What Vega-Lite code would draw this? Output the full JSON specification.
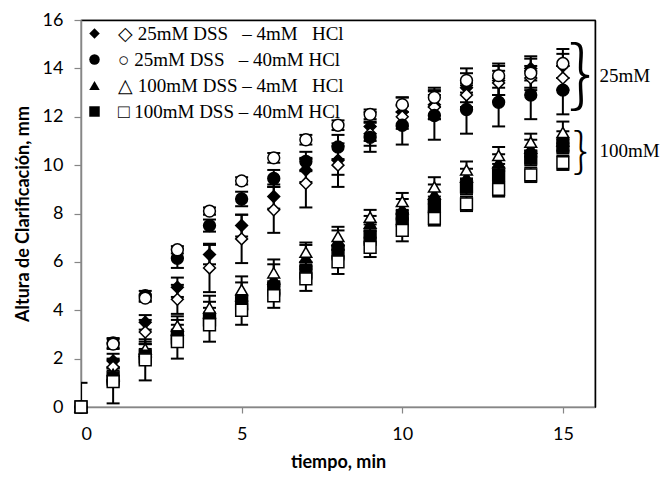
{
  "$schema": "https://vega.github.io/schema/vega-lite/v6.json",
  "autosize": {"type": "none"},
  "width": 514,
  "height": 387,
  "padding": {"left": 81, "top": 20, "right": 70, "bottom": 71},
  "background": "white",
  "config": {
    "view": {"stroke": "#000000", "strokeWidth": 1.2},
    "axis": {
      "grid": false,
      "domainColor": "#868686",
      "domainWidth": 1.5,
      "tickColor": "#868686",
      "tickWidth": 1.2,
      "labelFont": "Lato",
      "labelFontSize": 18,
      "labelColor": "#000000",
      "titleFont": "Lato",
      "titleFontSize": 18,
      "titleFontWeight": "bold",
      "titleColor": "#000000"
    }
  },
  "resolve": {"axis": {"x": "independent", "y": "independent"}},
  "datasets": {
    "d": [
      {"s":"25-4","r":"lleno","t":0,"y":0,"lo":0,"hi":0},
      {"s":"25-4","r":"lleno","t":1,"y":1.9,"lo":1.6,"hi":2.2},
      {"s":"25-4","r":"lleno","t":2,"y":3.5,"lo":3.2,"hi":3.8},
      {"s":"25-4","r":"lleno","t":3,"y":4.95,"lo":4.55,"hi":5.35},
      {"s":"25-4","r":"lleno","t":4,"y":6.3,"lo":5.9,"hi":6.7},
      {"s":"25-4","r":"lleno","t":5,"y":7.5,"lo":7.05,"hi":7.95},
      {"s":"25-4","r":"lleno","t":6,"y":8.7,"lo":8.2,"hi":9.2},
      {"s":"25-4","r":"lleno","t":7,"y":9.8,"lo":9.3,"hi":10.3},
      {"s":"25-4","r":"lleno","t":8,"y":10.2,"lo":9.6,"hi":10.8},
      {"s":"25-4","r":"lleno","t":9,"y":11.6,"lo":11.0,"hi":12.2},
      {"s":"25-4","r":"lleno","t":10,"y":12.2,"lo":11.6,"hi":12.8},
      {"s":"25-4","r":"lleno","t":11,"y":12.5,"lo":11.9,"hi":13.1},
      {"s":"25-4","r":"lleno","t":12,"y":13.2,"lo":12.6,"hi":13.8},
      {"s":"25-4","r":"lleno","t":13,"y":13.5,"lo":12.9,"hi":14.1},
      {"s":"25-4","r":"lleno","t":14,"y":14.0,"lo":13.5,"hi":14.5},
      {"s":"25-4","r":"lleno","t":15,"y":14.1,"lo":13.6,"hi":14.6},
      {"s":"25-4","r":"vacio","t":0,"y":0,"lo":0,"hi":0},
      {"s":"25-4","r":"vacio","t":1,"y":1.65,"lo":1.3,"hi":2.0},
      {"s":"25-4","r":"vacio","t":2,"y":3.1,"lo":2.6,"hi":3.6},
      {"s":"25-4","r":"vacio","t":3,"y":4.45,"lo":3.85,"hi":5.05},
      {"s":"25-4","r":"vacio","t":4,"y":5.75,"lo":4.75,"hi":6.75},
      {"s":"25-4","r":"vacio","t":5,"y":6.95,"lo":5.95,"hi":7.95},
      {"s":"25-4","r":"vacio","t":6,"y":8.15,"lo":7.2,"hi":9.1},
      {"s":"25-4","r":"vacio","t":7,"y":9.25,"lo":8.25,"hi":10.25},
      {"s":"25-4","r":"vacio","t":8,"y":10.0,"lo":9.1,"hi":10.9},
      {"s":"25-4","r":"vacio","t":9,"y":11.3,"lo":10.8,"hi":11.8},
      {"s":"25-4","r":"vacio","t":10,"y":12.0,"lo":11.5,"hi":12.5},
      {"s":"25-4","r":"vacio","t":11,"y":12.4,"lo":11.9,"hi":12.9},
      {"s":"25-4","r":"vacio","t":12,"y":12.9,"lo":12.4,"hi":13.4},
      {"s":"25-4","r":"vacio","t":13,"y":13.4,"lo":12.9,"hi":13.9},
      {"s":"25-4","r":"vacio","t":14,"y":13.6,"lo":13.1,"hi":14.1},
      {"s":"25-4","r":"vacio","t":15,"y":13.6,"lo":13.1,"hi":14.1},
      {"s":"25-40","r":"lleno","t":0,"y":0,"lo":-1,"hi":1},
      {"s":"25-40","r":"lleno","t":1,"y":2.65,"lo":2.45,"hi":2.85},
      {"s":"25-40","r":"lleno","t":2,"y":4.6,"lo":4.4,"hi":4.8},
      {"s":"25-40","r":"lleno","t":3,"y":6.15,"lo":5.75,"hi":6.55},
      {"s":"25-40","r":"lleno","t":4,"y":7.5,"lo":7.25,"hi":7.75},
      {"s":"25-40","r":"lleno","t":5,"y":8.6,"lo":8.3,"hi":8.9},
      {"s":"25-40","r":"lleno","t":6,"y":9.45,"lo":9.1,"hi":9.8},
      {"s":"25-40","r":"lleno","t":7,"y":10.15,"lo":9.75,"hi":10.55},
      {"s":"25-40","r":"lleno","t":8,"y":10.75,"lo":10.25,"hi":11.25},
      {"s":"25-40","r":"lleno","t":9,"y":11.15,"lo":10.55,"hi":11.75},
      {"s":"25-40","r":"lleno","t":10,"y":11.65,"lo":10.85,"hi":12.45},
      {"s":"25-40","r":"lleno","t":11,"y":12.05,"lo":11.05,"hi":13.05},
      {"s":"25-40","r":"lleno","t":12,"y":12.3,"lo":11.3,"hi":13.3},
      {"s":"25-40","r":"lleno","t":13,"y":12.6,"lo":11.6,"hi":13.6},
      {"s":"25-40","r":"lleno","t":14,"y":12.9,"lo":11.9,"hi":13.9},
      {"s":"25-40","r":"lleno","t":15,"y":13.1,"lo":12.1,"hi":14.1},
      {"s":"25-40","r":"vacio","t":0,"y":0,"lo":0,"hi":0},
      {"s":"25-40","r":"vacio","t":1,"y":2.6,"lo":2.4,"hi":2.8},
      {"s":"25-40","r":"vacio","t":2,"y":4.5,"lo":4.35,"hi":4.65},
      {"s":"25-40","r":"vacio","t":3,"y":6.5,"lo":6.35,"hi":6.65},
      {"s":"25-40","r":"vacio","t":4,"y":8.1,"lo":7.95,"hi":8.25},
      {"s":"25-40","r":"vacio","t":5,"y":9.35,"lo":9.2,"hi":9.5},
      {"s":"25-40","r":"vacio","t":6,"y":10.3,"lo":10.1,"hi":10.5},
      {"s":"25-40","r":"vacio","t":7,"y":11.05,"lo":10.85,"hi":11.25},
      {"s":"25-40","r":"vacio","t":8,"y":11.65,"lo":11.45,"hi":11.85},
      {"s":"25-40","r":"vacio","t":9,"y":12.1,"lo":11.9,"hi":12.3},
      {"s":"25-40","r":"vacio","t":10,"y":12.5,"lo":12.2,"hi":12.8},
      {"s":"25-40","r":"vacio","t":11,"y":12.8,"lo":12.4,"hi":13.2},
      {"s":"25-40","r":"vacio","t":12,"y":13.5,"lo":13.0,"hi":14.0},
      {"s":"25-40","r":"vacio","t":13,"y":13.7,"lo":13.2,"hi":14.2},
      {"s":"25-40","r":"vacio","t":14,"y":13.8,"lo":13.2,"hi":14.4},
      {"s":"25-40","r":"vacio","t":15,"y":14.2,"lo":13.6,"hi":14.8},
      {"s":"100-4","r":"lleno","t":0,"y":0,"lo":0,"hi":0},
      {"s":"100-4","r":"lleno","t":1,"y":1.35,"lo":1.05,"hi":1.65},
      {"s":"100-4","r":"lleno","t":2,"y":2.3,"lo":2.0,"hi":2.6},
      {"s":"100-4","r":"lleno","t":3,"y":3.2,"lo":2.8,"hi":3.6},
      {"s":"100-4","r":"lleno","t":4,"y":3.9,"lo":3.45,"hi":4.35},
      {"s":"100-4","r":"lleno","t":5,"y":4.6,"lo":4.05,"hi":5.15},
      {"s":"100-4","r":"lleno","t":6,"y":5.3,"lo":4.7,"hi":5.9},
      {"s":"100-4","r":"lleno","t":7,"y":6.2,"lo":5.7,"hi":6.7},
      {"s":"100-4","r":"lleno","t":8,"y":6.9,"lo":6.5,"hi":7.3},
      {"s":"100-4","r":"lleno","t":9,"y":7.6,"lo":7.3,"hi":7.9},
      {"s":"100-4","r":"lleno","t":10,"y":8.2,"lo":7.8,"hi":8.6},
      {"s":"100-4","r":"lleno","t":11,"y":8.8,"lo":8.4,"hi":9.2},
      {"s":"100-4","r":"lleno","t":12,"y":9.5,"lo":9.15,"hi":9.85},
      {"s":"100-4","r":"lleno","t":13,"y":10.1,"lo":9.75,"hi":10.45},
      {"s":"100-4","r":"lleno","t":14,"y":10.7,"lo":10.35,"hi":11.05},
      {"s":"100-4","r":"lleno","t":15,"y":11.0,"lo":10.6,"hi":11.4},
      {"s":"100-4","r":"vacio","t":0,"y":0,"lo":0,"hi":0},
      {"s":"100-4","r":"vacio","t":1,"y":1.3,"lo":1.0,"hi":1.6},
      {"s":"100-4","r":"vacio","t":2,"y":2.4,"lo":2.1,"hi":2.7},
      {"s":"100-4","r":"vacio","t":3,"y":3.35,"lo":2.95,"hi":3.75},
      {"s":"100-4","r":"vacio","t":4,"y":4.1,"lo":3.6,"hi":4.6},
      {"s":"100-4","r":"vacio","t":5,"y":4.85,"lo":4.3,"hi":5.4},
      {"s":"100-4","r":"vacio","t":6,"y":5.55,"lo":5.0,"hi":6.1},
      {"s":"100-4","r":"vacio","t":7,"y":6.4,"lo":6.0,"hi":6.8},
      {"s":"100-4","r":"vacio","t":8,"y":7.05,"lo":6.65,"hi":7.45},
      {"s":"100-4","r":"vacio","t":9,"y":7.85,"lo":7.55,"hi":8.15},
      {"s":"100-4","r":"vacio","t":10,"y":8.5,"lo":8.15,"hi":8.85},
      {"s":"100-4","r":"vacio","t":11,"y":9.1,"lo":8.7,"hi":9.5},
      {"s":"100-4","r":"vacio","t":12,"y":9.8,"lo":9.45,"hi":10.15},
      {"s":"100-4","r":"vacio","t":13,"y":10.4,"lo":10.05,"hi":10.75},
      {"s":"100-4","r":"vacio","t":14,"y":10.95,"lo":10.6,"hi":11.3},
      {"s":"100-4","r":"vacio","t":15,"y":11.35,"lo":10.9,"hi":11.8},
      {"s":"100-40","r":"lleno","t":0,"y":0,"lo":0,"hi":0},
      {"s":"100-40","r":"lleno","t":1,"y":1.2,"lo":0.9,"hi":1.5},
      {"s":"100-40","r":"lleno","t":2,"y":2.1,"lo":1.8,"hi":2.4},
      {"s":"100-40","r":"lleno","t":3,"y":2.9,"lo":2.6,"hi":3.2},
      {"s":"100-40","r":"lleno","t":4,"y":3.6,"lo":3.3,"hi":3.9},
      {"s":"100-40","r":"lleno","t":5,"y":4.3,"lo":4.0,"hi":4.6},
      {"s":"100-40","r":"lleno","t":6,"y":4.9,"lo":4.6,"hi":5.2},
      {"s":"100-40","r":"lleno","t":7,"y":5.6,"lo":5.3,"hi":5.9},
      {"s":"100-40","r":"lleno","t":8,"y":6.4,"lo":6.1,"hi":6.7},
      {"s":"100-40","r":"lleno","t":9,"y":7.0,"lo":6.7,"hi":7.3},
      {"s":"100-40","r":"lleno","t":10,"y":7.8,"lo":7.5,"hi":8.1},
      {"s":"100-40","r":"lleno","t":11,"y":8.3,"lo":8.0,"hi":8.6},
      {"s":"100-40","r":"lleno","t":12,"y":9.1,"lo":8.8,"hi":9.4},
      {"s":"100-40","r":"lleno","t":13,"y":9.6,"lo":9.3,"hi":9.9},
      {"s":"100-40","r":"lleno","t":14,"y":10.3,"lo":10.0,"hi":10.6},
      {"s":"100-40","r":"lleno","t":15,"y":10.8,"lo":10.5,"hi":11.1},
      {"s":"100-40","r":"vacio","t":0,"y":0,"lo":0,"hi":0},
      {"s":"100-40","r":"vacio","t":1,"y":1.05,"lo":0.15,"hi":1.95},
      {"s":"100-40","r":"vacio","t":2,"y":1.95,"lo":1.1,"hi":2.8},
      {"s":"100-40","r":"vacio","t":3,"y":2.7,"lo":2.0,"hi":3.4},
      {"s":"100-40","r":"vacio","t":4,"y":3.4,"lo":2.7,"hi":4.1},
      {"s":"100-40","r":"vacio","t":5,"y":4.0,"lo":3.4,"hi":4.6},
      {"s":"100-40","r":"vacio","t":6,"y":4.6,"lo":4.1,"hi":5.1},
      {"s":"100-40","r":"vacio","t":7,"y":5.3,"lo":4.8,"hi":5.8},
      {"s":"100-40","r":"vacio","t":8,"y":6.0,"lo":5.5,"hi":6.5},
      {"s":"100-40","r":"vacio","t":9,"y":6.6,"lo":6.2,"hi":7.0},
      {"s":"100-40","r":"vacio","t":10,"y":7.3,"lo":6.85,"hi":7.75},
      {"s":"100-40","r":"vacio","t":11,"y":7.8,"lo":7.5,"hi":8.1},
      {"s":"100-40","r":"vacio","t":12,"y":8.4,"lo":8.1,"hi":8.7},
      {"s":"100-40","r":"vacio","t":13,"y":9.0,"lo":8.7,"hi":9.3},
      {"s":"100-40","r":"vacio","t":14,"y":9.6,"lo":9.3,"hi":9.9},
      {"s":"100-40","r":"vacio","t":15,"y":10.1,"lo":9.8,"hi":10.4}
    ],
    "ann": [
      {"t": 15.55, "y": 13.62, "lbl": "25mM", "k": "big"},
      {"t": 15.55, "y": 10.5, "lbl": "100mM", "k": "small"}
    ]
  },
  "layer": [
    {
      "data": {"name": "ann"},
      "mark": {"type": "point", "opacity": 0, "size": 1},
      "encoding": {
        "x": {"field": "t", "type": "quantitative", "scale": {"domain": [0, 16], "nice": false},
              "axis": {"orient": "top", "labels": false, "ticks": false, "title": null, "domainColor": "#000000", "domainWidth": 1.5}},
        "y": {"field": "y", "type": "quantitative", "scale": {"domain": [0, 16], "nice": false},
              "axis": {"orient": "right", "labels": false, "ticks": false, "title": null, "domainColor": "#000000", "domainWidth": 1.5}}
      }
    },
    {
      "data": {"name": "d"},
      "transform": [{"filter": "datum.hi > datum.lo"}],
      "mark": {"type": "rule", "clip": true, "strokeWidth": 2, "color": "#000000"},
      "encoding": {
        "x": {"field": "t", "type": "quantitative",
              "axis": {"values": [0, 5, 10, 15], "tickSize": 6, "labelPadding": 12, "title": "tiempo, min", "titlePadding": 10}},
        "y": {"field": "lo", "type": "quantitative",
              "axis": {"values": [0, 2, 4, 6, 8, 10, 12, 14, 16], "tickSize": 7, "labelPadding": 11, "title": "Altura de Clarificación, mm", "titlePadding": 10}},
        "y2": {"field": "hi"}
      }
    },
    {
      "data": {"name": "d"},
      "transform": [{"filter": "datum.hi > datum.lo"}],
      "mark": {"type": "tick", "orient": "horizontal", "clip": true, "size": 13, "thickness": 2, "color": "#000000", "opacity": 1},
      "encoding": {
        "x": {"field": "t", "type": "quantitative", "axis": null},
        "y": {"field": "lo", "type": "quantitative", "axis": null}
      }
    },
    {
      "data": {"name": "d"},
      "transform": [{"filter": "datum.hi > datum.lo"}],
      "mark": {"type": "tick", "orient": "horizontal", "clip": true, "size": 13, "thickness": 2, "color": "#000000", "opacity": 1},
      "encoding": {
        "x": {"field": "t", "type": "quantitative", "axis": null},
        "y": {"field": "hi", "type": "quantitative", "axis": null}
      }
    },
    {
      "data": {"name": "d"},
      "mark": {"type": "point", "filled": true, "size": 140, "stroke": "#000000", "strokeWidth": 1.5, "opacity": 1},
      "encoding": {
        "x": {"field": "t", "type": "quantitative", "axis": null},
        "y": {"field": "y", "type": "quantitative", "axis": null},
        "shape": {
          "field": "s", "type": "nominal",
          "scale": {"domain": ["25-4", "25-40", "100-4", "100-40"], "range": ["diamond", "circle", "triangle-up", "square"]},
          "legend": {
            "title": null,
            "orient": "top-left",
            "offset": 4,
            "padding": 0,
            "symbolSize": 110,
            "symbolFillColor": "#000000",
            "symbolStrokeColor": "#000000",
            "symbolStrokeWidth": 0,
            "labelFont": "Liberation Serif",
            "labelFontSize": 19,
            "labelColor": "#000000",
            "labelOffset": 14,
            "labelLimit": 400,
            "rowPadding": 6,
            "labelExpr": "{'25-4':'◇ 25mM DSS\u2002 – 4mM\u2002 HCl','25-40':'○ 25mM DSS\u2002 – 40mM HCl','100-4':'△ 100mM DSS – 4mM\u2002 HCl','100-40':'□ 100mM DSS – 40mM HCl'}[datum.label]",
            "encode": {"symbols": {"update": {"fill": {"value": "#000000"}, "stroke": {"value": "#000000"}}}}
          }
        },
        "fill": {
          "field": "r", "type": "nominal",
          "scale": {"domain": ["lleno", "vacio"], "range": ["#000000", "#ffffff"]},
          "legend": null
        }
      }
    },
    {
      "data": {"name": "ann"},
      "transform": [{"filter": "datum.k == 'big'"}],
      "mark": {"type": "text", "text": "}", "font": "Noto Sans CJK SC", "fontWeight": 300, "fontSize": 73, "dy": 21, "align": "center", "baseline": "alphabetic", "color": "#000000"},
      "encoding": {
        "x": {"field": "t", "type": "quantitative", "axis": null},
        "y": {"field": "y", "type": "quantitative", "axis": null}
      }
    },
    {
      "data": {"name": "ann"},
      "transform": [{"filter": "datum.k == 'small'"}],
      "mark": {"type": "text", "text": "}", "font": "Noto Sans CJK SC", "fontWeight": 300, "fontSize": 47, "dy": 14, "align": "center", "baseline": "alphabetic", "color": "#000000"},
      "encoding": {
        "x": {"field": "t", "type": "quantitative", "axis": null},
        "y": {"field": "y", "type": "quantitative", "axis": null}
      }
    },
    {
      "data": {"name": "ann"},
      "mark": {"type": "text", "align": "left", "baseline": "middle", "dx": 19, "dy": -2, "font": "Liberation Serif", "fontSize": 19, "color": "#000000"},
      "encoding": {
        "x": {"field": "t", "type": "quantitative", "axis": null},
        "y": {"field": "y", "type": "quantitative", "axis": null},
        "text": {"field": "lbl"}
      }
    }
  ]
}
